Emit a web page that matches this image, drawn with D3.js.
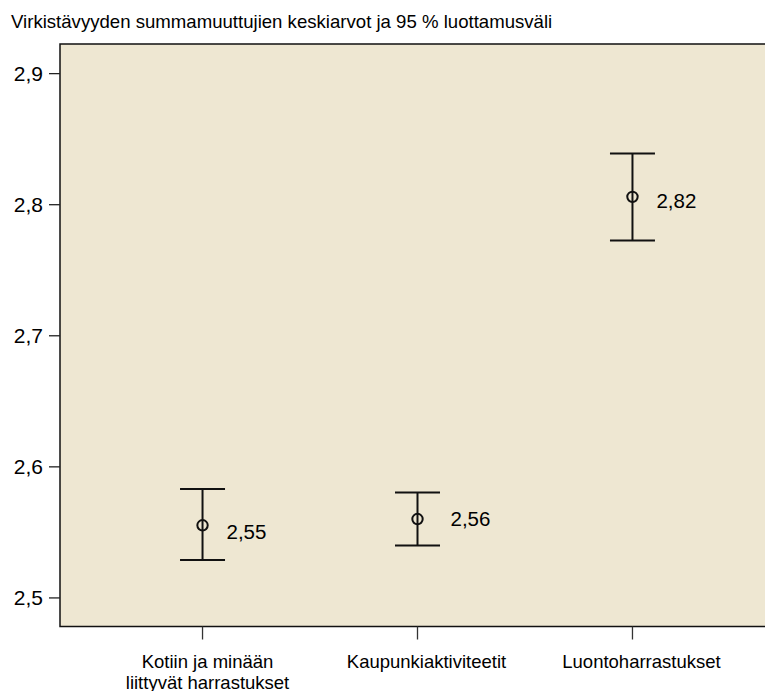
<!DOCTYPE html>
<html><head><meta charset="utf-8">
<script src="https://cdn.jsdelivr.net/npm/d3@7"></script>
<style>body{margin:0;background:#fff}svg{display:block}text{font-family:"Liberation Sans",Arial,sans-serif;fill:#000}</style>
</head><body>
<script>
const title = "Virkistävyyden summamuuttujien keskiarvot ja 95 % luottamusväli";
const categories = [["Kotiin ja minään","liittyvät harrastukset"],["Kaupunkiaktiviteetit"],["Luontoharrastukset"]];
const means = [2.5554, 2.5602, 2.806];
const lower = [2.529, 2.540, 2.7727];
const upper = [2.5831, 2.5805, 2.839];
const meanLabels = ["2,55", "2,56", "2,82"];
const yTicks = [2.5, 2.6, 2.7, 2.8, 2.9];

// layout-only: label placement relative to each mean marker (px)
const labelNudge = [[24, 14], [33, 6.5], [24, 11.6]];

const W = 765, H = 691;
const L = 60, R = 775, T = 44, B = 626.5;
const svg = d3.select("body").append("svg").attr("width", W).attr("height", H);

const keys = categories.map((c,i)=>i);
const x = d3.scalePoint().domain(keys).range([L, R]).padding(0.663);
const y = d3.scaleLinear().domain([2.4782, 2.9226]).range([B, T]);

svg.append("text").attr("x", 11).attr("y", 27.5).style("font-size", "18.6px").text(title);

svg.append("rect").attr("x", L).attr("y", T).attr("width", R - L).attr("height", B - T)
  .attr("fill", "#eee7d2").attr("stroke", "#111").attr("stroke-width", 1.5);

// y axis
const ya = svg.append("g");
yTicks.forEach(v => {
  ya.append("line").attr("x1", L - 11).attr("x2", L).attr("y1", y(v)).attr("y2", y(v))
    .attr("stroke", "#222").attr("stroke-width", 1.3);
  ya.append("text").attr("x", L - 17).attr("y", y(v)).attr("dy", "0.36em")
    .attr("text-anchor", "end").style("font-size", "21px").text(d3.format(".1f")(v).replace(".", ","));
});

// x axis
const xa = svg.append("g");
keys.forEach(k => {
  xa.append("line").attr("x1", x(k)).attr("x2", x(k)).attr("y1", B).attr("y2", B + 13)
    .attr("stroke", "#333").attr("stroke-width", 1.3);
  const t = xa.append("text").attr("text-anchor", "middle").style("font-size", "18.5px");
  const dx = categories[k].length > 1 ? 5 : 9;
  categories[k].forEach((line, j) => {
    t.append("tspan").attr("x", x(k) + dx).attr("y", 668 + j * 20.5).text(line);
  });
});

// error bars
const g = svg.append("g");
keys.forEach(k => {
  const cx = x(k);
  g.append("line").attr("x1", cx).attr("x2", cx).attr("y1", y(upper[k])).attr("y2", y(lower[k]))
    .attr("stroke", "#111").attr("stroke-width", 2);
  [upper[k], lower[k]].forEach(v => {
    g.append("line").attr("x1", cx - 22.5).attr("x2", cx + 22.5).attr("y1", y(v)).attr("y2", y(v))
      .attr("stroke", "#111").attr("stroke-width", 2);
  });
  g.append("circle").attr("cx", cx).attr("cy", y(means[k])).attr("r", 5.2)
    .attr("fill", "none").attr("stroke", "#111").attr("stroke-width", 2);
  g.append("text").attr("x", cx + labelNudge[k][0]).attr("y", y(means[k]) + labelNudge[k][1])
    .style("font-size", "20.5px").text(meanLabels[k]);
});
</script>
</body></html>
